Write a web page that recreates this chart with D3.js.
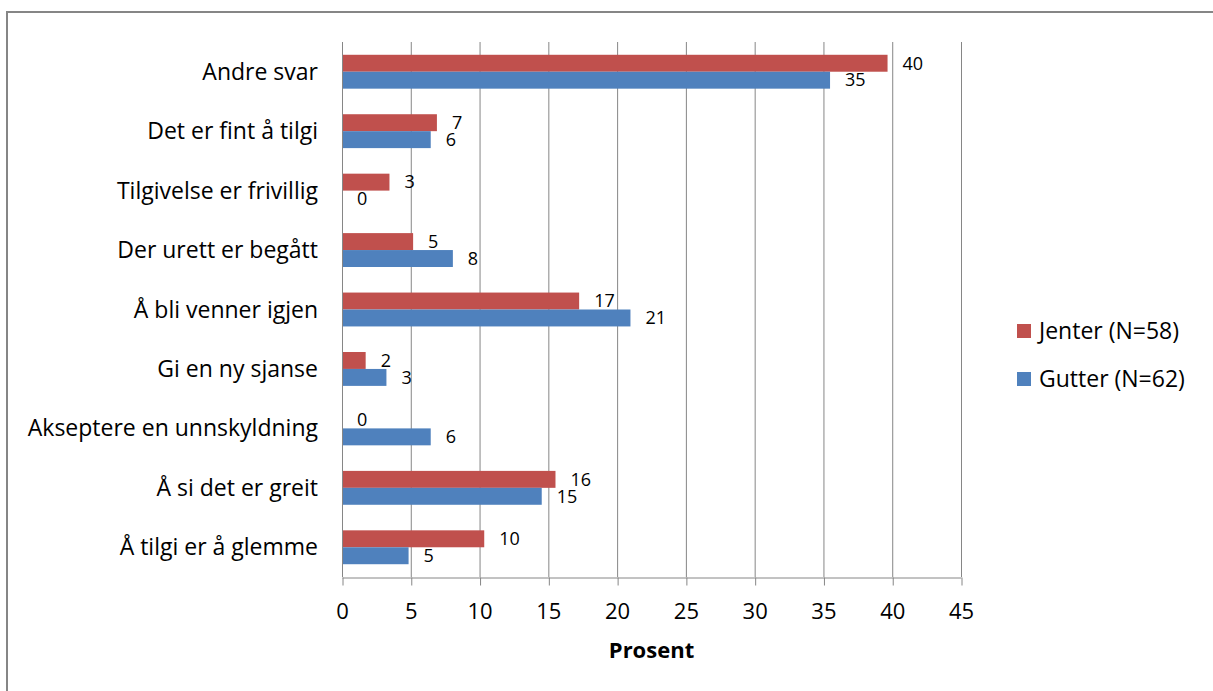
<!DOCTYPE html>
<html><head><meta charset="utf-8">
<script src="https://cdn.jsdelivr.net/npm/d3@7"></script>
<style>body{margin:0;background:#fff}svg{display:block}</style>
</head><body>
<svg id="c" width="1213" height="691"></svg>
<script>
const categories = ["Andre svar","Det er fint å tilgi","Tilgivelse er frivillig","Der urett er begått ","Å bli venner igjen","Gi en ny sjanse ","Akseptere en unnskyldning","Å si det er greit","Å tilgi er å glemme"];
const jenter = [39.66, 6.90, 3.45, 5.17, 17.24, 1.72, 0, 15.52, 10.34];
const gutter = [35.48, 6.45, 0, 8.06, 20.97, 3.23, 6.45, 14.52, 4.84];
const seriesNames = ["Jenter (N=58)", "Gutter (N=62)"];
const xTicks = [0, 5, 10, 15, 20, 25, 30, 35, 40, 45];
const axisTitle = "Prosent";

const colors = ["#C0504D", "#4F81BD"];
const font = "'Open Sans', sans-serif";
const grid = "#868686";

const svg = d3.select("#c");
svg.append("rect").attr("x",7).attr("y",12).attr("width",1240).attr("height",720)
  .attr("fill","none").attr("stroke",grid).attr("stroke-width",2);

const plotTop = 42, plotBottom = 577, plotLeft = 342, plotRight = 961;
const x = d3.scaleLinear().domain([0,45]).range([plotLeft, plotRight]);
const y = d3.scaleBand().domain(categories).range([plotTop, plotBottom]).paddingInner(0.43).paddingOuter(0.215);
const ys = d3.scaleBand().domain([0,1]).range([0, y.bandwidth()]);

// gridlines
svg.append("g").selectAll("line").data(xTicks).join("line")
  .attr("x1", d=>x(d)+0.5).attr("x2", d=>x(d)+0.5)
  .attr("y1", plotTop).attr("y2", plotBottom)
  .attr("stroke", grid).attr("stroke-width",1);

// bottom axis
const ax = svg.append("g").attr("transform",`translate(0,${plotBottom+0.5})`)
  .call(d3.axisBottom(x).tickValues(xTicks).tickSize(8).tickSizeOuter(0).tickPadding(19));
ax.selectAll("path").attr("stroke",grid);
ax.selectAll("line").attr("stroke",grid).attr("transform","translate(0.5,0)");
ax.selectAll("text").attr("font-family",font).attr("font-size",22).attr("fill","#000").attr("dy","0.68em");

// category labels
svg.append("g").selectAll("text").data(categories).join("text")
  .attr("x", 318).attr("y", d=>y(d)+y.bandwidth()/2).attr("dy","0.35em")
  .attr("text-anchor","end").attr("font-family",font).attr("font-size",23).attr("fill","#000")
  .text(d=>d);

const series = [jenter, gutter];
series.forEach((vals, si) => {
  const g = svg.append("g");
  g.selectAll("rect").data(vals).join("rect")
    .attr("x", x(0)).attr("y", (d,i)=>y(categories[i])+ys(si))
    .attr("width", d=>x(d)-x(0)).attr("height", ys.bandwidth())
    .attr("fill", colors[si]);
  g.selectAll("text").data(vals).join("text")
    .attr("x", d=>x(d)+15).attr("y", (d,i)=>y(categories[i])+ys(si)+ys.bandwidth()/2)
    .attr("dy","0.35em").attr("font-family",font).attr("font-size",18).attr("fill","#000")
    .text(d=>Math.round(d));
});

// left axis line
svg.append("line").attr("x1",plotLeft+0.5).attr("x2",plotLeft+0.5).attr("y1",plotTop).attr("y2",plotBottom)
  .attr("stroke",grid);

// axis title
svg.append("text").attr("x",(plotLeft+plotRight)/2).attr("y",658).attr("text-anchor","middle")
  .attr("font-family",font).attr("font-weight","bold").attr("font-size",22).attr("fill","#000").text(axisTitle);

// legend
const lg = svg.append("g");
seriesNames.forEach((n,i)=>{
  lg.append("rect").attr("x",1017).attr("y",324+i*48).attr("width",14).attr("height",14).attr("fill",colors[i]);
  lg.append("text").attr("x",1039).attr("y",331+i*48).attr("dy","0.35em")
    .attr("font-family",font).attr("font-size",23).attr("fill","#000").text(n);
});
</script>
</body></html>
